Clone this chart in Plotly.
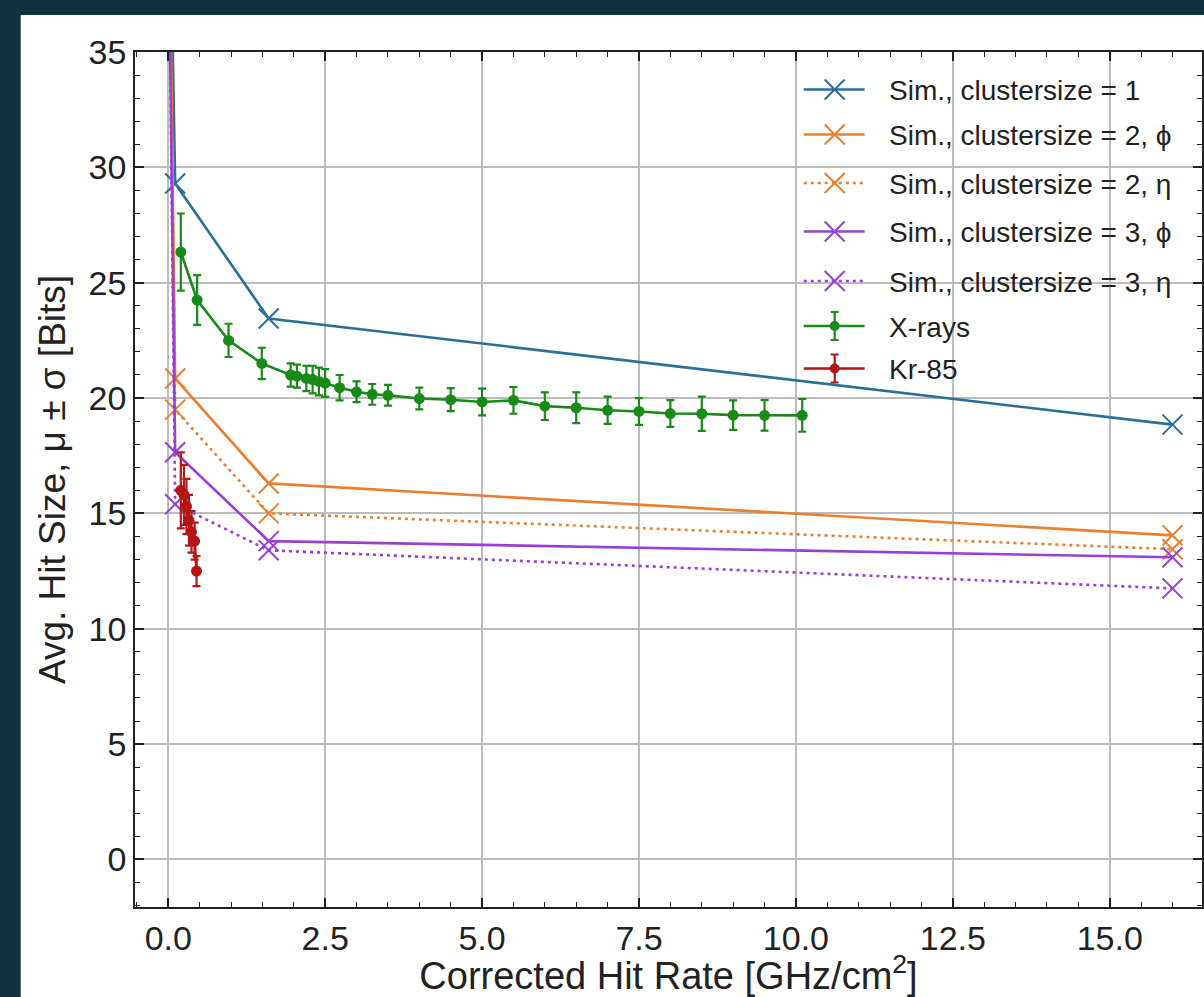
import plotly.graph_objects as go

# ---- data -----------------------------------------------------------------
# Simulation: corrected hit rate [GHz/cm^2] and mean hit size [bits]
SIM_RATE = [0.02, 0.11, 1.6, 16.0]
SIM_CS1 = [43.0, 29.3, 23.45, 18.85]
SIM_CS2_PHI = [40.0, 20.85, 16.3, 14.05]
SIM_CS2_ETA = [40.0, 19.5, 15.0, 13.45]
SIM_CS3_PHI = [37.0, 17.65, 13.8, 13.1]
SIM_CS3_ETA = [37.0, 15.4, 13.4, 11.75]

# X-ray measurements (mean and standard deviation)
XRAY_RATE = [0.2, 0.46, 0.96, 1.49, 1.95, 2.05, 2.2, 2.3, 2.4, 2.5, 2.73,
             3.0, 3.25, 3.5, 4.0, 4.5, 5.0, 5.5, 6.0, 6.5, 7.0, 7.5, 8.0,
             8.5, 9.0, 9.5, 10.1]
XRAY_MEAN = [26.33, 24.25, 22.5, 21.5, 21.0, 20.95, 20.85, 20.8, 20.72,
             20.65, 20.45, 20.27, 20.16, 20.12, 19.98, 19.93, 19.83, 19.9,
             19.65, 19.58, 19.47, 19.42, 19.33, 19.32, 19.26, 19.25, 19.25]
XRAY_STD = [1.67, 1.08, 0.72, 0.68, 0.5, 0.5, 0.55, 0.6, 0.6, 0.6, 0.55,
            0.45, 0.45, 0.45, 0.47, 0.5, 0.58, 0.58, 0.6, 0.67, 0.59, 0.58,
            0.58, 0.74, 0.64, 0.66, 0.71]

# Kr-85 source measurements
KR_RATE = [0.2, 0.25, 0.29, 0.33, 0.37, 0.42, 0.45]
KR_MEAN = [16.0, 15.8, 15.3, 14.7, 14.2, 13.8, 12.5]
KR_STD = [1.65, 1.3, 1.2, 1.1, 0.9, 0.8, 0.65]

X_TICKS = [0, 2.5, 5, 7.5, 10, 12.5, 15]
X_TICK_LABELS = ["0.0", "2.5", "5.0", "7.5", "10.0", "12.5", "15.0"]
Y_TICKS = [0, 5, 10, 15, 20, 25, 30, 35]
Y_TICK_LABELS = ["0", "5", "10", "15", "20", "25", "30", "35"]

LEGEND_LABELS = [
    "Sim., clustersize = 1",
    "Sim., clustersize = 2, ϕ",
    "Sim., clustersize = 2, η",
    "Sim., clustersize = 3, ϕ",
    "Sim., clustersize = 3, η",
    "X-rays",
    "Kr-85",
]

# ---- styling ----------------------------------------------------------------
BLUE = "#2a6f98"
ORANGE = "#ea7f30"
PURPLE = "#9a3fd4"
GREEN = "#178a17"
RED = "#b41616"
INK = "#222222"
FONT = "Liberation Sans"
DOT = "3px,4px"
LW = 2.6
XSIZE = 20

fig = go.Figure()

sim_series = [
    (SIM_CS1, BLUE, "solid"),
    (SIM_CS2_PHI, ORANGE, "solid"),
    (SIM_CS2_ETA, ORANGE, DOT),
    (SIM_CS3_PHI, PURPLE, "solid"),
    (SIM_CS3_ETA, PURPLE, DOT),
]
for (vals, col, dash), name in zip(sim_series, LEGEND_LABELS):
    fig.add_trace(go.Scatter(
        x=SIM_RATE, y=vals, name=name, mode="lines+markers",
        line=dict(color=col, width=LW, dash=dash),
        marker=dict(symbol="x-thin", size=XSIZE, line=dict(color=col, width=2)),
    ))

for rate, mean, std, col, name in [
    (XRAY_RATE, XRAY_MEAN, XRAY_STD, GREEN, LEGEND_LABELS[5]),
    (KR_RATE, KR_MEAN, KR_STD, RED, LEGEND_LABELS[6]),
]:
    fig.add_trace(go.Scatter(
        x=rate, y=mean, name=name, mode="lines+markers",
        line=dict(color=col, width=LW),
        marker=dict(symbol="circle", size=11, color=col),
        error_y=dict(type="data", array=std, visible=True, color=col,
                     thickness=2.2, width=4),
    ))

# ---- legend drawn on a pixel-scaled overlay axis ----------------------------
LEG_Y = [89.5, 134.5, 183, 231.5, 281, 326, 368.5]
LEG_X0, LEG_XM, LEG_X1, LEG_TX = 805, 836, 866, 888
leg_styles = [
    (BLUE, "solid", "x"), (ORANGE, "solid", "x"), (ORANGE, DOT, "x"),
    (PURPLE, "solid", "x"), (PURPLE, DOT, "x"), (GREEN, "solid", "e"),
    (RED, "solid", "e"),
]
for (col, dash, kind), ly, label in zip(leg_styles, LEG_Y, LEGEND_LABELS):
    fig.add_trace(go.Scatter(
        x=[LEG_X0, LEG_X1], y=[ly, ly], mode="lines", xaxis="x2", yaxis="y2",
        line=dict(color=col, width=LW, dash=dash), showlegend=False,
        hoverinfo="skip",
    ))
    if kind == "x":
        fig.add_trace(go.Scatter(
            x=[LEG_XM], y=[ly], mode="markers", xaxis="x2", yaxis="y2",
            marker=dict(symbol="x-thin", size=XSIZE, line=dict(color=col, width=2)),
            showlegend=False, hoverinfo="skip",
        ))
    else:
        fig.add_trace(go.Scatter(
            x=[LEG_XM], y=[ly], mode="markers", xaxis="x2", yaxis="y2",
            marker=dict(symbol="circle", size=10, color=col),
            error_y=dict(type="constant", value=14, visible=True, color=col,
                         thickness=2.2, width=4),
            showlegend=False, hoverinfo="skip",
        ))
    fig.add_annotation(
        x=LEG_TX, y=ly + 1, xref="x2", yref="y2", text=label, showarrow=False,
        xanchor="left", yanchor="middle",
        font=dict(family=FONT, size=28, color=INK),
    )

axis_common = dict(
    ticks="inside", ticklen=9, tickwidth=1.5, tickcolor=INK,
    showline=True, linecolor=INK, linewidth=1.8, mirror="ticks",
    showgrid=True, gridcolor="#bcbcbc", gridwidth=1.5, zeroline=False,
    tickfont=dict(family=FONT, size=34, color=INK),
)

fig.update_layout(
    width=1204, height=997,
    margin=dict(l=135, r=0, t=52, b=90),
    paper_bgcolor="#10323d",
    plot_bgcolor="white",
    showlegend=False,
    font=dict(family=FONT, color=INK),
    xaxis=dict(
        range=[-0.53, 16.47], tickmode="array", tickvals=X_TICKS,
        ticktext=X_TICK_LABELS,
        minor=dict(ticks="inside", ticklen=5, tickwidth=1.2, tickcolor=INK,
                   dtick=0.5, tick0=0, showgrid=False),
        title=dict(text="Corrected Hit Rate [GHz/cm<sup>2</sup>]",
                   font=dict(family=FONT, size=38, color=INK), standoff=12),
        **axis_common,
    ),
    yaxis=dict(
        range=[-2.06, 35], tickmode="array", tickvals=Y_TICKS,
        ticktext=Y_TICK_LABELS,
        minor=dict(ticks="inside", ticklen=5, tickwidth=1.2, tickcolor=INK,
                   dtick=1, tick0=0, showgrid=False),
        title=dict(text="Avg. Hit Size, μ ± σ [Bits]",
                   font=dict(family=FONT, size=37, color=INK), standoff=12),
        **axis_common,
    ),
    xaxis2=dict(overlaying="x", range=[135, 1204], visible=False),
    yaxis2=dict(overlaying="y", range=[907, 52], visible=False),
    shapes=[dict(
        type="rect", xref="paper", yref="paper", layer="below",
        x0=-0.1071, x1=1.02, y0=-0.12, y1=1.0433,
        fillcolor="white", line=dict(width=0),
    )],
)

fig.write_html("out.html")
